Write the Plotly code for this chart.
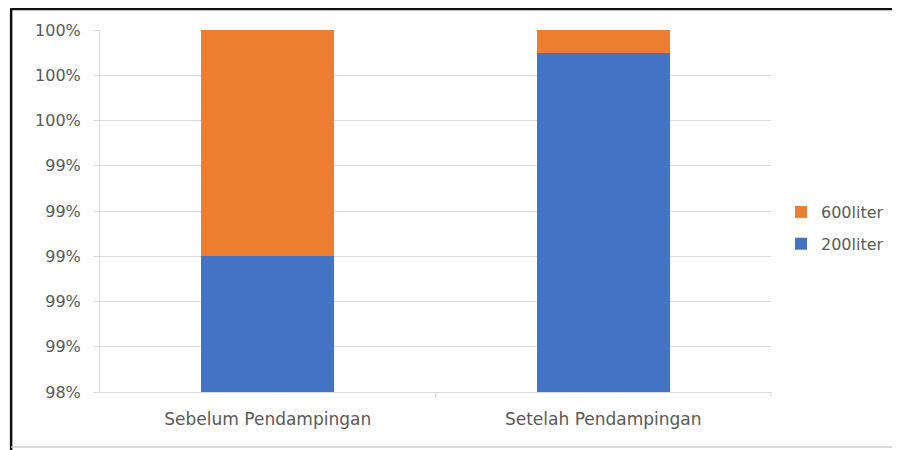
import plotly.graph_objects as go

categories = ["Sebelum Pendampingan", "Setelah Pendampingan"]
liter200 = [0.990, 0.999]
liter600 = [0.010, 0.001]
tick_values = [0.984, 0.986, 0.988, 0.990, 0.992, 0.994, 0.996, 0.998, 1.000]

OFF = 8  # page body margin
W, H = 900 - OFF, 450 - OFF
# plot area in screen pixels
SX0, SX1, SY0, SY1 = 100, 772, 30, 392
L, R = SX0 - OFF, W - (SX1 - OFF)
T, B = SY0 - OFF, H - (SY1 - OFF)
PW, PH = W - L - R, H - T - B

def px(x):
    return (x - OFF - L) / PW

def py(y):
    return (H - B - (y - OFF)) / PH

FONT = "DejaVu Sans, Verdana, sans-serif"

fig = go.Figure()
fig.add_trace(go.Bar(name="200liter", x=categories, y=liter200, legendgroup="b", legendrank=2,
                     marker=dict(color="#4472C4", line=dict(width=0))))
fig.add_trace(go.Bar(name="600liter", x=categories, y=liter600, legendgroup="a", legendrank=1,
                     marker=dict(color="#ED7D31", line=dict(width=0))))

fig.update_layout(
    width=W, height=H,
    barmode="stack",
    bargap=0.605,
    margin=dict(l=L, r=R, t=T, b=B, pad=0),
    paper_bgcolor="white",
    plot_bgcolor="white",
    font=dict(family=FONT, size=14, color="#595959"),
    showlegend=True,
    legend=dict(
        traceorder="grouped",
        x=px(781), y=py(195), xanchor="left", yanchor="top",
        font=dict(family=FONT, size=16, color="#595959"),
        itemwidth=30, tracegroupgap=8,
        bgcolor="rgba(0,0,0,0)",
    ),
    xaxis=dict(
        showgrid=False,
        showline=True, linecolor="#d9d9d9", linewidth=1,
        ticks="", ticklabelstandoff=12,
        tickfont=dict(family=FONT, size=17, color="#595959"),
    ),
    yaxis=dict(
        range=[0.984, 1.0],
        tickvals=tick_values,
        tickformat=".0%",
        showgrid=True, gridcolor="#d9d9d9", gridwidth=1,
        showline=True, linecolor="#d9d9d9", linewidth=1,
        ticks="outside", ticklen=5, tickcolor="#d9d9d9",
        ticklabelstandoff=10,
        tickfont=dict(family=FONT, size=16, color="#595959"),
        zeroline=False,
    ),
    shapes=[
        dict(type="line", xref="paper", yref="paper",
             x0=px(10), x1=px(900), y0=py(9), y1=py(9),
             line=dict(color="#111111", width=2.5)),
        dict(type="line", xref="paper", yref="paper",
             x0=px(11), x1=px(11), y0=py(9), y1=py(450),
             line=dict(color="#111111", width=2.5)),
        dict(type="line", xref="paper", yref="paper",
             x0=px(11), x1=px(900), y0=py(447), y1=py(447),
             line=dict(color="#cccccc", width=1.5)),
        dict(type="line", xref="paper", yref="paper",
             x0=px(436), x1=px(436), y0=0, y1=py(397),
             line=dict(color="#d9d9d9", width=1)),
        dict(type="line", xref="paper", yref="paper",
             x0=1, x1=1, y0=0, y1=py(397),
             line=dict(color="#d9d9d9", width=1)),
    ],
)

fig.write_html("out.html")
